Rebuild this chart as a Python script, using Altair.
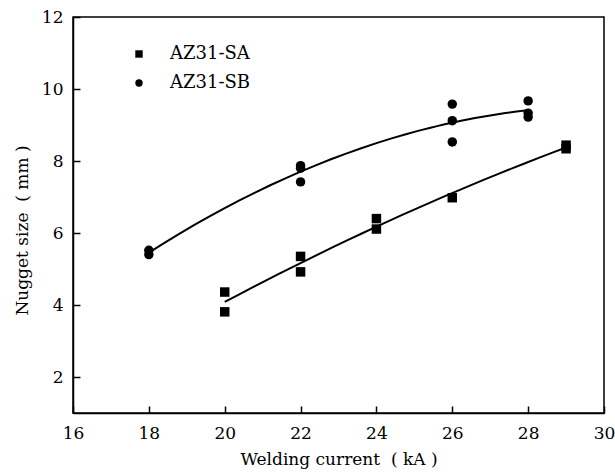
import altair as alt
import pandas as pd

# Welding current (kA) and measured nugget size (mm) for each sheet type
series = ["AZ31-SA", "AZ31-SB"]
current_sa = [20, 20, 22, 22, 24, 24, 26, 29, 29]
size_sa = [4.36, 3.81, 5.35, 4.92, 6.40, 6.11, 6.98, 8.44, 8.34]
current_sb = [18, 18, 22, 22, 22, 26, 26, 26, 28, 28, 28]
size_sb = [5.52, 5.40, 7.87, 7.80, 7.42, 9.58, 9.12, 8.53, 9.67, 9.33, 9.22]

x_ticks = [16, 18, 20, 22, 24, 26, 28, 30]
y_ticks = [2, 4, 6, 8, 10, 12]

df = pd.DataFrame({
    "current": current_sa + current_sb,
    "size": size_sa + size_sb,
    "series": [series[0]] * len(current_sa) + [series[1]] * len(current_sb),
})

FONT = "DejaVu Serif"
W, H = 531, 396

x_scale = alt.Scale(domain=[16, 30], nice=False, zero=False)
y_scale = alt.Scale(domain=[1, 12], nice=False, zero=False)

# Axes carrying labels and titles (no ticks)
x_axis = alt.Axis(values=x_ticks, ticks=False, grid=False, domainColor="black",
                  domainWidth=1.5, labelFont=FONT, labelFontSize=17,
                  labelColor="black", labelPadding=12, labelFlush=False,
                  title="Welding current\u00a0\u00a0(\u00a0kA\u00a0)",
                  titleFont=FONT, titleFontSize=17, titleFontWeight="normal",
                  titleColor="black", titlePadding=10)
y_axis = alt.Axis(values=y_ticks, ticks=False, grid=False, domainColor="black",
                  domainWidth=1.5, labelFont=FONT, labelFontSize=17,
                  labelColor="black", labelPadding=10, labelFlush=False,
                  title="Nugget size\u00a0\u00a0(\u00a0mm\u00a0)",
                  titleFont=FONT, titleFontSize=17, titleFontWeight="normal",
                  titleColor="black", titlePadding=10, titleY=213)

# Tick-only axes folded back onto the plot edges so ticks point inward
x_tick_axis = alt.Axis(orient="top", offset=-H, values=x_ticks, labels=False,
                       domain=False, grid=False, ticks=True, tickSize=7,
                       tickWidth=1.5, tickColor="black", title="")
y_tick_axis = alt.Axis(orient="right", offset=-W, values=y_ticks, labels=False,
                       domain=False, grid=False, ticks=True, tickSize=7,
                       tickWidth=1.5, tickColor="black", title="")

base = alt.Chart(df)

points = base.mark_point(filled=True, opacity=1, color="black", size=90).encode(
    x=alt.X("current:Q", scale=x_scale, axis=x_axis),
    y=alt.Y("size:Q", scale=y_scale, axis=y_axis),
    shape=alt.Shape(
        "series:N",
        scale=alt.Scale(domain=series, range=["square", "circle"]),
        legend=alt.Legend(orient="none", legendX=57, legendY=28, title="",
                          labelFont=FONT, labelFontSize=18, labelColor="black",
                          symbolSize=55, symbolFillColor="black",
                          symbolStrokeColor="black", symbolOpacity=1,
                          labelOffset=22, rowPadding=11, padding=0),
    ),
)

# Second-order polynomial fit through each series
fits = base.transform_regression(
    "current", "size", groupby=["series"], method="poly", order=2
).mark_line(color="black", strokeWidth=2).encode(
    x=alt.X("current:Q", scale=x_scale, axis=x_tick_axis),
    y=alt.Y("size:Q", scale=y_scale, axis=y_tick_axis),
    detail="series:N",
)

chart = alt.layer(fits, points).resolve_axis(
    x="independent", y="independent"
).properties(
    width=W, height=H,
    autosize=alt.AutoSizeParams(type="none"),
    padding={"left": 73, "top": 17, "right": 11, "bottom": 61},
    background="white",
).configure(
    font=FONT
).configure_view(stroke="black", strokeWidth=1.5)

chart.save("out.html", embed_options={"renderer": "svg", "actions": False})
